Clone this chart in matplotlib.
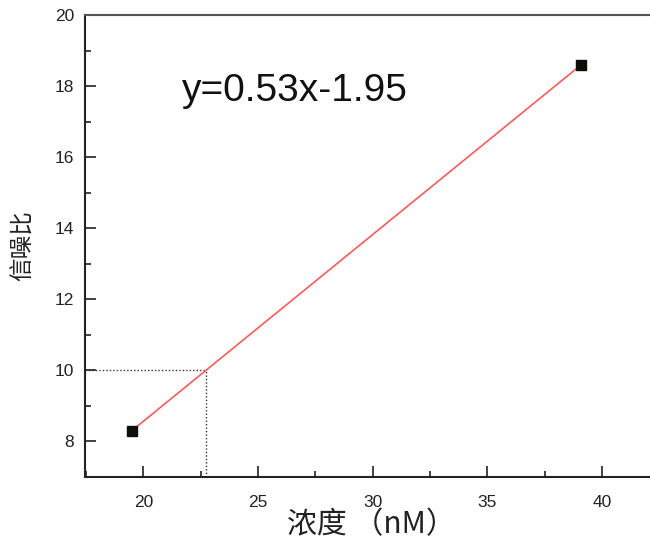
import numpy as np
import matplotlib
matplotlib.use("Agg")
import matplotlib.pyplot as plt
from matplotlib.ticker import MultipleLocator

plt.rcParams['font.family'] = ['Liberation Sans', 'Noto Sans CJK SC', 'DejaVu Sans']

conc = [19.5, 39.1]
snr = [8.3, 18.6]
target_snr = 10
equation = "y=0.53x-1.95"
xlabel = "浓度 （nM）"
ylabel = "信噪比"

slope, intercept = np.polyfit(conc, snr, 1)
x_at_target = (target_snr - intercept) / slope

fig = plt.figure(figsize=(6.5, 5.41), dpi=100)
ax = fig.add_axes([85/650, 1 - 476.7/541, 1 - 85/650, (476.7 - 15)/541])
ax.set_xlim(17.45, 42.1)
ax.set_ylim(7, 20)

xs = np.array(conc)
ax.plot(xs, slope * xs + intercept, color='#ff5a5a', lw=1.2, zorder=2)
ax.plot(conc, snr, 's', color='#0a0f0a', ms=7.5, zorder=3)

ax.plot([17.45, x_at_target], [target_snr, target_snr], color='#333333', ls=(0, (1, 1.5)), lw=1.0, zorder=1)
ax.plot([x_at_target, x_at_target], [7, target_snr], color='#333333', ls=(0, (1, 1.5)), lw=1.0, zorder=1)

fig.text(182/650, 1 - 101/541, equation, fontsize=28, color='#111111',
         ha='left', va='baseline')

ax.xaxis.set_major_locator(MultipleLocator(5))
ax.xaxis.set_minor_locator(MultipleLocator(2.5))
ax.yaxis.set_major_locator(MultipleLocator(2))
ax.yaxis.set_minor_locator(MultipleLocator(1))
ax.tick_params(which='both', direction='in', top=False, right=False, width=1.2, color='#222222',
               labelsize=12.5, labelcolor='#222222')
ax.tick_params(which='major', length=8)
ax.tick_params(axis='x', which='major', pad=13)
ax.tick_params(axis='y', which='major', pad=8)
ax.tick_params(which='minor', length=4)

for s in ['left', 'bottom', 'top']:
    ax.spines[s].set_linewidth(1.5)
    ax.spines[s].set_color('#222222')
ax.spines['top'].set_color('#555555')
ax.spines['right'].set_visible(False)

ax.set_xlabel(xlabel, fontsize=21.5, color='#222222', va='center',
              family=['Noto Sans CJK SC', 'DejaVu Sans'])
ax.set_ylabel(ylabel, fontsize=17, color='#222222', labelpad=14,
              family=['Noto Sans CJK SC', 'DejaVu Sans'])
ax.xaxis.set_label_coords((371 - 85) / 565, (476.7 - 525) / 461.7)

fig.savefig('out.png', dpi=100)
